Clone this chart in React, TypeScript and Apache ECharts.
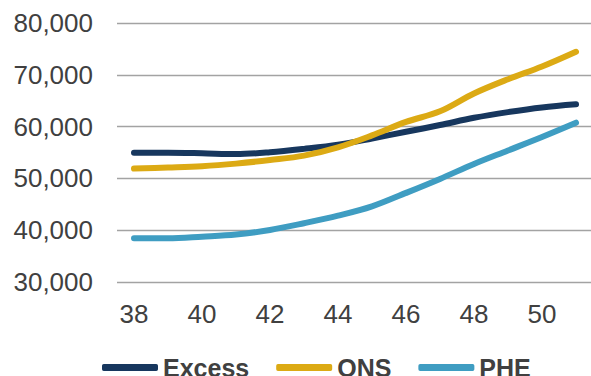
import React, { useEffect, useRef } from "react";
import * as echarts from "echarts";

const categories = ["38", "39", "40", "41", "42", "43", "44", "45", "46", "47", "48", "49", "50", "51"];
const excess = [54950, 54950, 54850, 54700, 55050, 55700, 56500, 57700, 59000, 60300, 61700, 62800, 63700, 64300];
const ons = [51900, 52100, 52350, 52850, 53550, 54400, 56000, 58300, 60900, 62950, 66400, 69150, 71600, 74450];
const phe = [38450, 38450, 38750, 39150, 40050, 41350, 42800, 44600, 47200, 49900, 52800, 55400, 58000, 60750];

const seriesNames = ["Excess", "ONS", "PHE"];
const seriesColors = ["#17375e", "#dcaa14", "#3f9dc2"];
const seriesData = [excess, ons, phe];

export default function App() {
  const ref = useRef<HTMLDivElement>(null);
  useEffect(() => {
    if (!ref.current) return;
    const chart = echarts.init(ref.current, undefined, { renderer: "svg" });
    const font = "'Liberation Sans', Arial, sans-serif";
    chart.setOption({
      animation: false,
      backgroundColor: "#ffffff",
      grid: { left: 117, right: -2, top: 23, bottom: 94, outerBoundsMode: "none" },
      xAxis: {
        type: "category",
        data: categories,
        boundaryGap: true,
        axisLine: { show: false },
        axisTick: { show: false },
        axisLabel: {
          interval: 1,
          margin: 19,
          color: "#404040",
          fontSize: 26,
          fontFamily: font,
        },
      },
      yAxis: {
        type: "value",
        min: 30000,
        max: 80000,
        interval: 10000,
        axisLine: { show: false },
        axisTick: { show: false },
        splitLine: { lineStyle: { color: "#a3a3a3", width: 1.3 } },
        axisLabel: {
          margin: 24,
          color: "#404040",
          fontSize: 26,
          fontFamily: font,
          formatter: (v: number) => v.toLocaleString("en-US"),
        },
      },
      legend: {
        left: 97,
        top: 350,
        itemWidth: 56,
        itemHeight: 7,
        itemGap: 27,
        icon: "roundRect",
        textStyle: { color: "#404040", fontSize: 25, fontWeight: "bold", fontFamily: font },
        data: seriesNames,
      },
      series: seriesNames.map((name, i) => ({
        name,
        type: "line",
        data: seriesData[i],
        smooth: 0.35,
        showSymbol: false,
        symbol: "none",
        color: seriesColors[i],
        lineStyle: { width: 6, color: seriesColors[i], cap: "round", join: "round" },
      })),
    });
    return () => chart.dispose();
  }, []);
  return (
    <div
      ref={ref}
      style={{ position: "fixed", left: 0, top: 0, width: 591, height: 376 }}
    />
  );
}
